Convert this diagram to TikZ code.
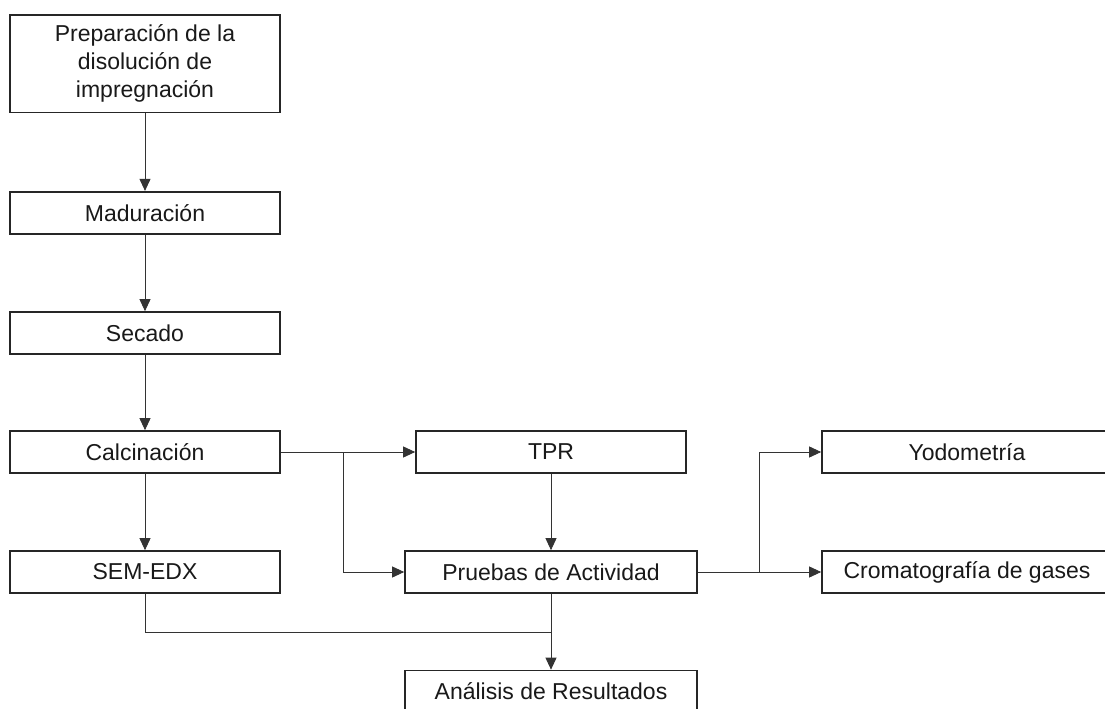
\documentclass[tikz,border=0pt]{standalone}
\usepackage{fontspec}
\setmainfont{Liberation Sans}
\usetikzlibrary{arrows.meta}
\begin{document}
\begin{tikzpicture}[x=1pt,y=-1pt,
  box/.style={draw=black!85,line width=1.7pt,rectangle,inner sep=0pt,
    minimum height=42pt,align=center,text=black!90,font=\fontsize{23}{28}\selectfont},
  arr/.style={draw=black!80,line width=0.9pt,-{Triangle[length=12pt,width=11pt]}},
  ln/.style={draw=black!80,line width=0.9pt}]
\useasboundingbox (0,0) rectangle (1105,709);
\fill[white] (0,0) rectangle (1105,709);
\node[box,minimum width=270pt,minimum height=97.5pt] (prep) at (145,63.75) {Preparación de la\\disolución de\\impregnación};
\node[box,minimum width=270pt] (mad) at (145,212.75) {Maduración};
\node[box,minimum width=270pt] (sec) at (145,333) {Secado};
\node[box,minimum width=270pt] (cal) at (145,452) {Calcinación};
\node[box,minimum width=270pt] (sem) at (145,572) {SEM-EDX};
\node[box,minimum width=270pt] (tpr) at (551,452) {TPR};
\node[box,minimum width=292pt] (pru) at (551,572) {Pruebas de Actividad};
\node[box,minimum width=292pt] (ana) at (551,691.5) {Análisis de Resultados};
\node[box,minimum width=290pt] (yod) at (967,452) {Yodometría};
\node[box,minimum width=290pt] (cro) at (967,572) {Cromatografía de gases};
\coordinate (j1) at (343,452);
\coordinate (j2) at (759,572);
\coordinate (j3) at (551,632);
\draw[arr] (prep.south) -- (mad.north);
\draw[arr] (mad.south) -- (sec.north);
\draw[arr] (sec.south) -- (cal.north);
\draw[arr] (cal.south) -- (sem.north);
\draw[arr] (cal.east) -- (tpr.west);
\draw[arr] (j1) |- (pru.west);
\draw[arr] (tpr.south) -- (pru.north);
\draw[ln] (pru.south) -- (j3);
\draw[arr] (sem.south) |- (j3) -- (ana.north);
\draw[arr] (pru.east) -- (cro.west);
\draw[arr] (j2) |- (yod.west);
\end{tikzpicture}
\end{document}
